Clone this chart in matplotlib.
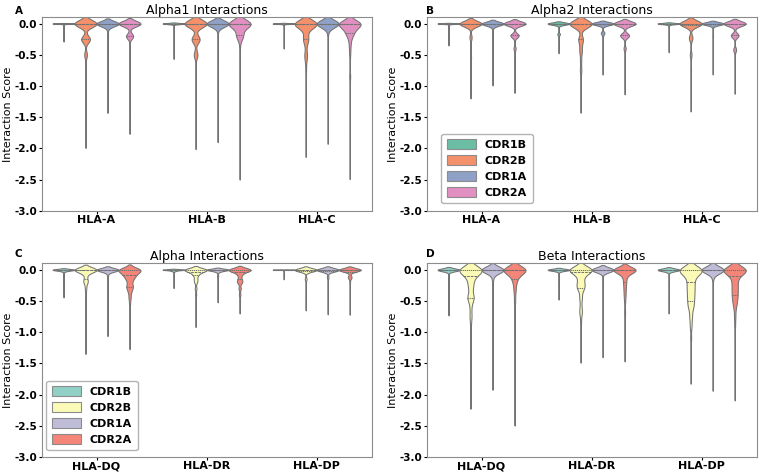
import matplotlib
matplotlib.use("Agg")
import matplotlib.pyplot as plt
from matplotlib.patches import Patch
import numpy as np
import pandas as pd
import seaborn as sns

# each violin: list of (score, count) pairs, order CDR1B, CDR2B, CDR1A, CDR2A
cdrs = ["CDR1B", "CDR2B", "CDR1A", "CDR2A"]
class1_hla = ["HLA-A", "HLA-B", "HLA-C"]
class2_hla = ["HLA-DQ", "HLA-DR", "HLA-DP"]

alpha1_hla_a = [
    [(0, 300), (-0.02, 3), (-0.1, 1), (-0.2, 1), (-0.28, 1)],
    [(0, 140), (-0.03, 10), (-0.25, 55), (-0.28, 5), (-0.5, 18), (-0.7, 3), (-0.9, 1), (-1.2, 1), (-1.5, 1), (-1.88, 1)],
    [(0, 130), (-0.03, 12), (-0.1, 3), (-0.2, 6), (-0.5, 1), (-0.8, 1), (-1.1, 1), (-1.35, 1)],
    [(0, 160), (-0.03, 8), (-0.2, 50), (-0.22, 5), (-0.45, 4), (-0.7, 2), (-1.0, 1), (-1.3, 1), (-1.68, 1)],
]
alpha1_hla_b = [
    [(0, 300), (-0.05, 2), (-0.2, 1), (-0.35, 1), (-0.55, 1)],
    [(0, 140), (-0.03, 10), (-0.25, 50), (-0.28, 5), (-0.5, 25), (-0.75, 4), (-1.0, 2), (-1.3, 1), (-1.6, 1), (-1.89, 1)],
    [(0, 140), (-0.03, 12), (-0.1, 3), (-0.2, 3), (-0.5, 1), (-1.0, 1), (-1.4, 1), (-1.8, 1)],
    [(0, 150), (-0.05, 15), (-0.1, 15), (-0.19, 40), (-0.25, 10), (-0.4, 5), (-0.6, 3), (-0.9, 4), (-1.3, 1), (-1.8, 1), (-2.1, 1), (-2.37, 1)],
]
alpha1_hla_c = [
    [(0, 300), (-0.05, 2), (-0.2, 1), (-0.39, 1)],
    [(0, 150), (-0.05, 20), (-0.1, 15), (-0.15, 10), (-0.25, 35), (-0.35, 10), (-0.5, 18), (-0.6, 8), (-0.75, 6), (-1.0, 5), (-1.3, 2), (-1.7, 1), (-2.01, 1)],
    [(0, 140), (-0.03, 12), (-0.1, 3), (-0.15, 4), (-0.3, 2), (-0.6, 3), (-0.9, 1), (-1.3, 1), (-1.6, 1), (-1.81, 1)],
    [(0, 150), (-0.05, 30), (-0.1, 25), (-0.15, 30), (-0.2, 20), (-0.3, 12), (-0.4, 8), (-0.5, 6), (-0.65, 4), (-0.85, 8), (-1.1, 2), (-1.5, 1), (-2.0, 1), (-2.37, 1)],
]

alpha2_hla_a = [
    [(0, 300), (-0.03, 3), (-0.1, 1), (-0.2, 2), (-0.34, 1)],
    [(0, 130), (-0.03, 15), (-0.22, 14), (-0.35, 3), (-0.55, 7), (-0.75, 2), (-0.95, 1), (-1.11, 1)],
    [(0, 130), (-0.03, 12), (-0.1, 3), (-0.2, 4), (-0.35, 2), (-0.5, 2), (-0.75, 1), (-0.93, 1)],
    [(0, 150), (-0.03, 10), (-0.19, 55), (-0.22, 5), (-0.4, 15), (-0.6, 3), (-0.8, 1), (-1.04, 1)],
]
alpha2_hla_b = [
    [(0, 120), (-0.03, 10), (-0.17, 15), (-0.3, 2), (-0.44, 1)],
    [(0, 140), (-0.05, 20), (-0.25, 30), (-0.35, 10), (-0.45, 15), (-0.6, 8), (-0.75, 10), (-0.9, 3), (-1.1, 2), (-1.31, 1)],
    [(0, 150), (-0.03, 15), (-0.15, 25), (-0.2, 5), (-0.4, 3), (-0.6, 1), (-0.77, 1)],
    [(0, 150), (-0.03, 10), (-0.19, 60), (-0.22, 5), (-0.4, 15), (-0.6, 4), (-0.8, 2), (-1.06, 1)],
]
alpha2_hla_c = [
    [(0, 200), (-0.03, 8), (-0.15, 4), (-0.3, 1), (-0.44, 1)],
    [(0, 140), (-0.03, 15), (-0.23, 25), (-0.5, 12), (-0.75, 5), (-1.0, 1), (-1.31, 1)],
    [(0, 130), (-0.03, 12), (-0.1, 3), (-0.2, 5), (-0.35, 2), (-0.5, 1), (-0.77, 1)],
    [(0, 150), (-0.03, 10), (-0.19, 55), (-0.42, 20), (-0.6, 4), (-0.8, 1), (-1.05, 1)],
]

alpha_hla_dq = [
    [(0, 100), (-0.02, 20), (-0.1, 4), (-0.25, 1), (-0.42, 1)],
    [(0, 150), (-0.03, 20), (-0.08, 15), (-0.15, 15), (-0.2, 25), (-0.3, 10), (-0.4, 6), (-0.5, 5), (-0.6, 3), (-0.8, 2), (-1.0, 1), (-1.27, 1)],
    [(0, 130), (-0.03, 20), (-0.1, 5), (-0.2, 3), (-0.4, 2), (-0.7, 1), (-1.01, 1)],
    [(0, 80), (-0.03, 30), (-0.08, 30), (-0.12, 25), (-0.18, 20), (-0.27, 30), (-0.35, 15), (-0.45, 10), (-0.55, 5), (-0.7, 3), (-0.9, 2), (-1.19, 1)],
]
alpha_hla_dr = [
    [(0, 100), (-0.02, 20), (-0.1, 3), (-0.28, 1)],
    [(0, 160), (-0.03, 50), (-0.08, 40), (-0.15, 25), (-0.2, 20), (-0.3, 15), (-0.4, 10), (-0.5, 6), (-0.65, 2), (-0.8, 1), (-0.86, 1)],
    [(0, 130), (-0.03, 20), (-0.1, 8), (-0.25, 4), (-0.4, 1), (-0.49, 1)],
    [(0, 130), (-0.03, 30), (-0.08, 25), (-0.15, 20), (-0.2, 30), (-0.3, 15), (-0.4, 10), (-0.5, 5), (-0.6, 2), (-0.64, 1)],
]
alpha_hla_dp = [
    [(0, 300), (-0.02, 3), (-0.08, 1), (-0.15, 1)],
    [(0, 60), (-0.02, 15), (-0.15, 6), (-0.3, 1), (-0.45, 1), (-0.6, 1)],
    [(0, 70), (-0.02, 15), (-0.12, 6), (-0.3, 2), (-0.5, 1), (-0.66, 1)],
    [(0, 80), (-0.03, 15), (-0.12, 15), (-0.2, 3), (-0.35, 2), (-0.5, 1), (-0.67, 1)],
]

beta_hla_dq = [
    [(0, 100), (-0.02, 20), (-0.1, 2), (-0.25, 3), (-0.45, 1), (-0.69, 1)],
    [(0, 110), (-0.03, 30), (-0.1, 30), (-0.2, 25), (-0.3, 20), (-0.45, 40), (-0.6, 10), (-0.75, 12), (-0.9, 5), (-1.1, 3), (-1.4, 2), (-1.8, 1), (-2.09, 1)],
    [(0, 140), (-0.03, 25), (-0.15, 8), (-0.3, 5), (-0.5, 2), (-0.8, 1), (-1.2, 1), (-1.5, 1), (-1.82, 1)],
    [(0, 150), (-0.03, 30), (-0.1, 20), (-0.15, 25), (-0.25, 15), (-0.35, 12), (-0.5, 10), (-0.7, 6), (-0.9, 5), (-1.2, 1), (-1.6, 1), (-2.0, 1), (-2.37, 1)],
]
beta_hla_dr = [
    [(0, 100), (-0.02, 20), (-0.1, 2), (-0.25, 3), (-0.45, 1)],
    [(0, 110), (-0.03, 25), (-0.12, 25), (-0.22, 30), (-0.3, 30), (-0.45, 15), (-0.6, 10), (-0.7, 12), (-0.85, 5), (-1.0, 3), (-1.2, 2), (-1.37, 1)],
    [(0, 140), (-0.03, 20), (-0.2, 6), (-0.4, 2), (-0.7, 1), (-1.0, 1), (-1.33, 1)],
    [(0, 140), (-0.03, 30), (-0.1, 25), (-0.2, 20), (-0.3, 15), (-0.4, 12), (-0.5, 8), (-0.65, 6), (-0.75, 5), (-0.9, 2), (-1.15, 1), (-1.37, 1)],
]
beta_hla_dp = [
    [(0, 100), (-0.02, 20), (-0.1, 2), (-0.25, 2), (-0.45, 1), (-0.66, 1)],
    [(0, 100), (-0.03, 30), (-0.1, 30), (-0.2, 30), (-0.3, 30), (-0.4, 28), (-0.5, 26), (-0.6, 24), (-0.75, 15), (-0.9, 10), (-1.1, 6), (-1.3, 3), (-1.5, 1), (-1.69, 1)],
    [(0, 140), (-0.03, 25), (-0.15, 6), (-0.3, 3), (-0.6, 2), (-0.9, 1), (-1.3, 1), (-1.6, 1), (-1.83, 1)],
    [(0, 110), (-0.03, 30), (-0.1, 25), (-0.2, 25), (-0.3, 25), (-0.4, 25), (-0.5, 20), (-0.6, 12), (-0.75, 8), (-0.9, 5), (-1.1, 3), (-1.4, 2), (-1.7, 1), (-1.96, 1)],
]


def to_frame(hla_names, groups):
    rows = []
    for hla, violins in zip(hla_names, groups):
        for cdr, pairs in zip(cdrs, violins):
            vals = np.repeat([p[0] for p in pairs], [p[1] for p in pairs])
            rows.append(pd.DataFrame({"hla": hla, "cdr": cdr, "score": vals}))
    return pd.concat(rows, ignore_index=True)


panels = [
    ("A", "Alpha1 Interactions", class1_hla, [alpha1_hla_a, alpha1_hla_b, alpha1_hla_c], "Set2", None),
    ("B", "Alpha2 Interactions", class1_hla, [alpha2_hla_a, alpha2_hla_b, alpha2_hla_c], "Set2", (0.045, 0.04)),
    ("C", "Alpha Interactions", class2_hla, [alpha_hla_dq, alpha_hla_dr, alpha_hla_dp], "Set3", (0.015, 0.035)),
    ("D", "Beta Interactions", class2_hla, [beta_hla_dq, beta_hla_dr, beta_hla_dp], "Set3", None),
]

fig, axes = plt.subplots(2, 2, figsize=(7.69, 4.74), dpi=100)
fig.subplots_adjust(left=0.054, right=0.984, top=0.9635, bottom=0.036, wspace=0.166, hspace=0.272)

letter_pos = {"A": (0.019, 0.988), "B": (0.554, 0.988), "C": (0.019, 0.475), "D": (0.554, 0.475)}
sat = 0.9

for ax, (letter, title, hla_names, groups, pal, legend_at) in zip(axes.flat, panels):
    df = to_frame(hla_names, groups)
    colors = sns.color_palette(pal, 4)
    sns.violinplot(data=df, x="hla", y="score", hue="cdr", hue_order=cdrs, order=hla_names,
                   palette=colors, saturation=sat, inner="quart", density_norm="width",
                   linewidth=0.75, linecolor="0.45", bw_adjust=0.7, legend=False, ax=ax)
    ax.set_ylim(-3.0, 0.1)
    ax.set_xlim(-0.5, 2.5)
    ax.set_yticks(np.arange(-3.0, 0.01, 0.5))
    ax.set_yticklabels([f"{v:.1f}" for v in np.arange(-3.0, 0.01, 0.5)])
    ax.set_xlabel("")
    ax.set_ylabel("Interaction Score", fontsize=8, labelpad=1)
    ax.set_title(title, fontsize=9, pad=1.5)
    ax.tick_params(labelsize=7.5, length=2, pad=1)
    for lab in ax.get_xticklabels() + ax.get_yticklabels():
        lab.set_fontweight("bold")
    for lab in ax.get_xticklabels():
        lab.set_fontsize(8)
    for sp in ax.spines.values():
        sp.set_color("0.55")
    fig.text(*letter_pos[letter], letter, fontsize=7.5, fontweight="bold", va="top", ha="left")
    if legend_at is not None:
        handles = [Patch(facecolor=sns.desaturate(c, sat), edgecolor="0.55", linewidth=0.8) for c in colors]
        ax.legend(handles, cdrs, loc="lower left", bbox_to_anchor=legend_at,
                  prop={"weight": "bold", "size": 8}, borderaxespad=0,
                  handlelength=2.6, handleheight=1.0, borderpad=0.5, labelspacing=0.45,
                  edgecolor="0.7", framealpha=1.0)

fig.savefig("out.png", dpi=100)
